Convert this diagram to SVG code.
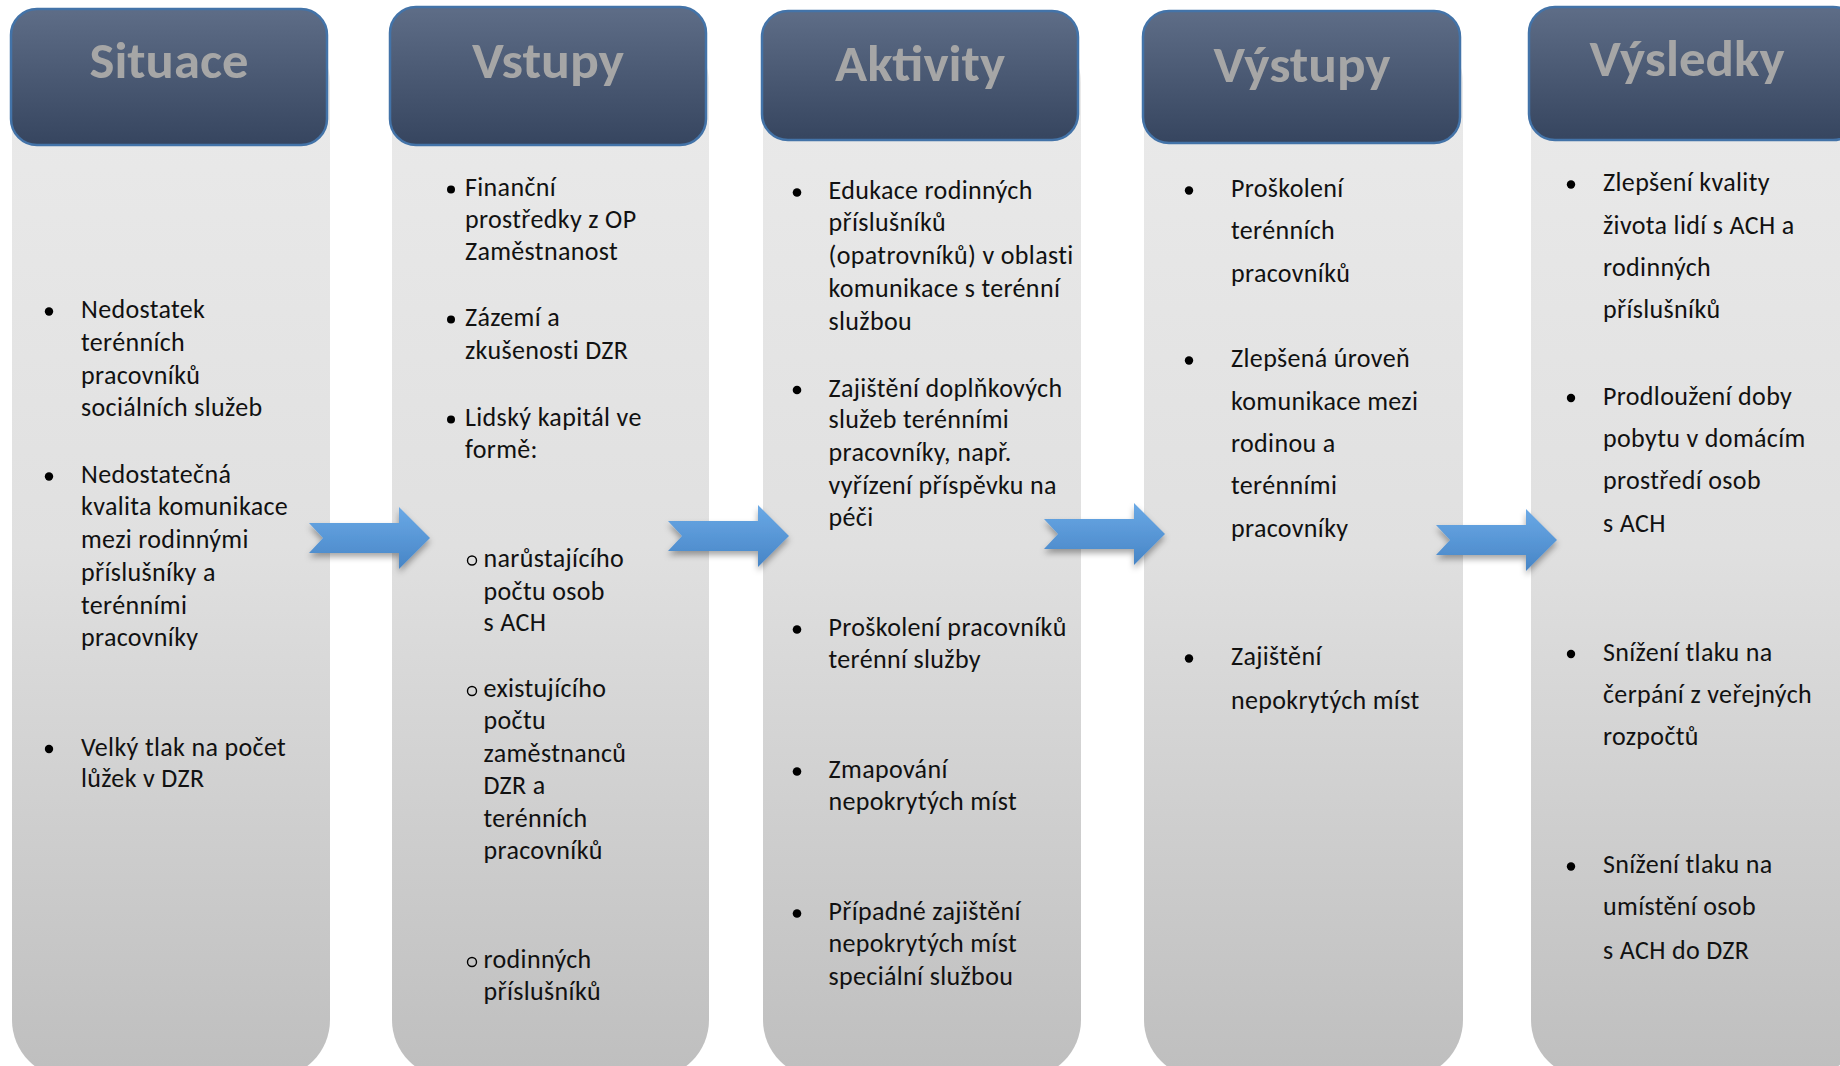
<svg xmlns="http://www.w3.org/2000/svg" xmlns:xlink="http://www.w3.org/1999/xlink" width="1840" height="1066" viewBox="0 0 1840 1066">
<defs>
<linearGradient id="bodyGrad" gradientUnits="userSpaceOnUse" x1="0" y1="120" x2="0" y2="1066">
<stop offset="0" stop-color="#e9e9e9"/>
<stop offset="0.45" stop-color="#e0e0e0"/>
<stop offset="1" stop-color="#bfbfbf"/>
</linearGradient>
<linearGradient id="hdrGrad" x1="0" y1="0" x2="0" y2="1">
<stop offset="0" stop-color="#5e6d87"/>
<stop offset="1" stop-color="#36455f"/>
</linearGradient>
<linearGradient id="arrGrad" x1="0" y1="0" x2="0" y2="1">
<stop offset="0" stop-color="#6aa9e6"/>
<stop offset="1" stop-color="#4785c6"/>
</linearGradient>
<filter id="shadow" x="-20%" y="-30%" width="140%" height="170%">
<feDropShadow dx="0" dy="4" stdDeviation="3" flood-color="#000" flood-opacity="0.35"/>
</filter>
<path id="arrowShape" d="M0,-15 L90,-15 L90,-31 L121,0 L90,31 L90,15 L0,15 L14,0 Z"/>
</defs>
<style>
.body { fill: url(#bodyGrad); }
.hdr { fill: url(#hdrGrad); stroke: #4373a8; stroke-width: 2.5; }
.htxt { font-family: Carlito, Lato, "Open Sans", sans-serif; font-weight: bold; font-size: 50px; fill: #a6a6a6; text-anchor: middle; }
.t { font-family: Carlito, Lato, "Liberation Sans", sans-serif; font-size: 26px; letter-spacing: 0.35px; fill: #111111; }
.b { fill: #000000; }
.sb { fill: none; stroke: #000000; stroke-width: 1.4; }
.arrow { fill: url(#arrGrad); filter: url(#shadow); }
</style>
<rect width="1840" height="1066" fill="#ffffff"/>

<g id="node-situace">
<rect class="body" x="12" y="25" width="318" height="1053" rx="58" ry="58"/>
<rect class="hdr" x="11" y="9" width="316" height="136" rx="26" ry="26"/>
<text class="htxt" x="169" y="78" textLength="159" lengthAdjust="spacingAndGlyphs">Situace</text>
<circle class="b" cx="49" cy="311.5" r="4.2"/>
<text class="t" x="81" y="318">Nedostatek</text>
<text class="t" x="81" y="351">terénních</text>
<text class="t" x="81" y="383.5">pracovníků</text>
<text class="t" x="81" y="416">sociálních služeb</text>
<circle class="b" cx="49" cy="476.5" r="4.2"/>
<text class="t" x="81" y="483">Nedostatečná</text>
<text class="t" x="81" y="515">kvalita komunikace</text>
<text class="t" x="81" y="548">mezi rodinnými</text>
<text class="t" x="81" y="581">příslušníky a</text>
<text class="t" x="81" y="613.5">terénními</text>
<text class="t" x="81" y="646">pracovníky</text>
<circle class="b" cx="49" cy="749" r="4.2"/>
<text class="t" x="81" y="755.5">Velký tlak na počet</text>
<text class="t" x="81" y="787">lůžek v DZR</text>
</g>

<g id="node-vstupy">
<rect class="body" x="392" y="25" width="317" height="1053" rx="58" ry="58"/>
<rect class="hdr" x="390" y="7" width="316" height="138" rx="26" ry="26"/>
<text class="htxt" x="548" y="78" textLength="152" lengthAdjust="spacingAndGlyphs">Vstupy</text>
<circle class="b" cx="451" cy="189.5" r="4"/>
<text class="t" x="465" y="196">Finanční</text>
<text class="t" x="465" y="227.5">prostředky z OP</text>
<text class="t" x="465" y="260">Zaměstnanost</text>
<circle class="b" cx="451" cy="319.5" r="4"/>
<text class="t" x="465" y="326">Zázemí a</text>
<text class="t" x="465" y="359">zkušenosti DZR</text>
<circle class="b" cx="451" cy="419.5" r="4"/>
<text class="t" x="465" y="426">Lidský kapitál ve</text>
<text class="t" x="465" y="457.5">formě:</text>
<circle class="sb" cx="472" cy="560.5" r="4.5"/>
<text class="t" x="483.5" y="566.5">narůstajícího</text>
<text class="t" x="483.5" y="599.5">počtu osob</text>
<text class="t" x="483.5" y="631">s ACH</text>
<circle class="sb" cx="472" cy="691" r="4.5"/>
<text class="t" x="483.5" y="697">existujícího</text>
<text class="t" x="483.5" y="728.5">počtu</text>
<text class="t" x="483.5" y="761.5">zaměstnanců</text>
<text class="t" x="483.5" y="794">DZR a</text>
<text class="t" x="483.5" y="827">terénních</text>
<text class="t" x="483.5" y="859">pracovníků</text>
<circle class="sb" cx="472" cy="962" r="4.5"/>
<text class="t" x="483.5" y="968">rodinných</text>
<text class="t" x="483.5" y="1000">příslušníků</text>
</g>

<g id="node-aktivity">
<rect class="body" x="763" y="25" width="318" height="1053" rx="58" ry="58"/>
<rect class="hdr" x="762" y="11" width="316" height="129" rx="26" ry="26"/>
<text class="htxt" x="920" y="81" textLength="170" lengthAdjust="spacingAndGlyphs">Aktivity</text>
<circle class="b" cx="797" cy="192.5" r="4.3"/>
<text class="t" x="828.5" y="199">Edukace rodinných</text>
<text class="t" x="828.5" y="231">příslušníků</text>
<text class="t" x="828.5" y="264">(opatrovníků) v oblasti</text>
<text class="t" x="828.5" y="296.5">komunikace s terénní</text>
<text class="t" x="828.5" y="329.5">službou</text>
<circle class="b" cx="797" cy="390" r="4.3"/>
<text class="t" x="828.5" y="396.5">Zajištění doplňkových</text>
<text class="t" x="828.5" y="428">služeb terénními</text>
<text class="t" x="828.5" y="461">pracovníky, např.</text>
<text class="t" x="828.5" y="494">vyřízení příspěvku na</text>
<text class="t" x="828.5" y="525.5">péči</text>
<circle class="b" cx="797" cy="629.5" r="4.3"/>
<text class="t" x="828.5" y="636">Proškolení pracovníků</text>
<text class="t" x="828.5" y="667.5">terénní služby</text>
<circle class="b" cx="797" cy="771.5" r="4.3"/>
<text class="t" x="828.5" y="778">Zmapování</text>
<text class="t" x="828.5" y="809.5">nepokrytých míst</text>
<circle class="b" cx="797" cy="913.5" r="4.3"/>
<text class="t" x="828.5" y="920">Případné zajištění</text>
<text class="t" x="828.5" y="951.5">nepokrytých míst</text>
<text class="t" x="828.5" y="984.5">speciální službou</text>
</g>

<g id="node-vystupy">
<rect class="body" x="1144" y="25" width="319" height="1053" rx="58" ry="58"/>
<rect class="hdr" x="1143" y="11" width="317" height="132" rx="26" ry="26"/>
<text class="htxt" x="1302" y="82" textLength="177" lengthAdjust="spacingAndGlyphs">Výstupy</text>
<circle class="b" cx="1189" cy="190.5" r="4.2"/>
<text class="t" x="1231" y="197">Proškolení</text>
<text class="t" x="1231" y="239">terénních</text>
<text class="t" x="1231" y="281.5">pracovníků</text>
<circle class="b" cx="1189" cy="360.5" r="4.2"/>
<text class="t" x="1231" y="367">Zlepšená úroveň</text>
<text class="t" x="1231" y="409.5">komunikace mezi</text>
<text class="t" x="1231" y="451.5">rodinou a</text>
<text class="t" x="1231" y="494">terénními</text>
<text class="t" x="1231" y="537">pracovníky</text>
<circle class="b" cx="1189" cy="658.5" r="4.2"/>
<text class="t" x="1231" y="665">Zajištění</text>
<text class="t" x="1231" y="708.5">nepokrytých míst</text>
</g>

<g id="node-vysledky">
<rect class="body" x="1531" y="25" width="330" height="1053" rx="58" ry="58"/>
<rect class="hdr" x="1529" y="7" width="330" height="133" rx="26" ry="26"/>
<text class="htxt" x="1687" y="76" textLength="195" lengthAdjust="spacingAndGlyphs">Výsledky</text>
<circle class="b" cx="1571" cy="184.5" r="4.2"/>
<text class="t" x="1603" y="191">Zlepšení kvality</text>
<text class="t" x="1603" y="233.5">života lidí s ACH a</text>
<text class="t" x="1603" y="275.5">rodinných</text>
<text class="t" x="1603" y="318">příslušníků</text>
<circle class="b" cx="1571" cy="398" r="4.2"/>
<text class="t" x="1603" y="404.5">Prodloužení doby</text>
<text class="t" x="1603" y="447">pobytu v domácím</text>
<text class="t" x="1603" y="489">prostředí osob</text>
<text class="t" x="1603" y="531.5">s ACH</text>
<circle class="b" cx="1571" cy="654" r="4.2"/>
<text class="t" x="1603" y="660.5">Snížení tlaku na</text>
<text class="t" x="1603" y="702.5">čerpání z veřejných</text>
<text class="t" x="1603" y="745">rozpočtů</text>
<circle class="b" cx="1571" cy="866.5" r="4.2"/>
<text class="t" x="1603" y="873">Snížení tlaku na</text>
<text class="t" x="1603" y="915">umístění osob</text>
<text class="t" x="1603" y="958.5">s ACH do DZR</text>
</g>

<g id="connectors">
<use class="arrow" xlink:href="#arrowShape" href="#arrowShape" transform="translate(309,538)"/>
<use class="arrow" xlink:href="#arrowShape" href="#arrowShape" transform="translate(668,536)"/>
<use class="arrow" xlink:href="#arrowShape" href="#arrowShape" transform="translate(1044,534)"/>
<use class="arrow" xlink:href="#arrowShape" href="#arrowShape" transform="translate(1436,540)"/>
</g>
</svg>
